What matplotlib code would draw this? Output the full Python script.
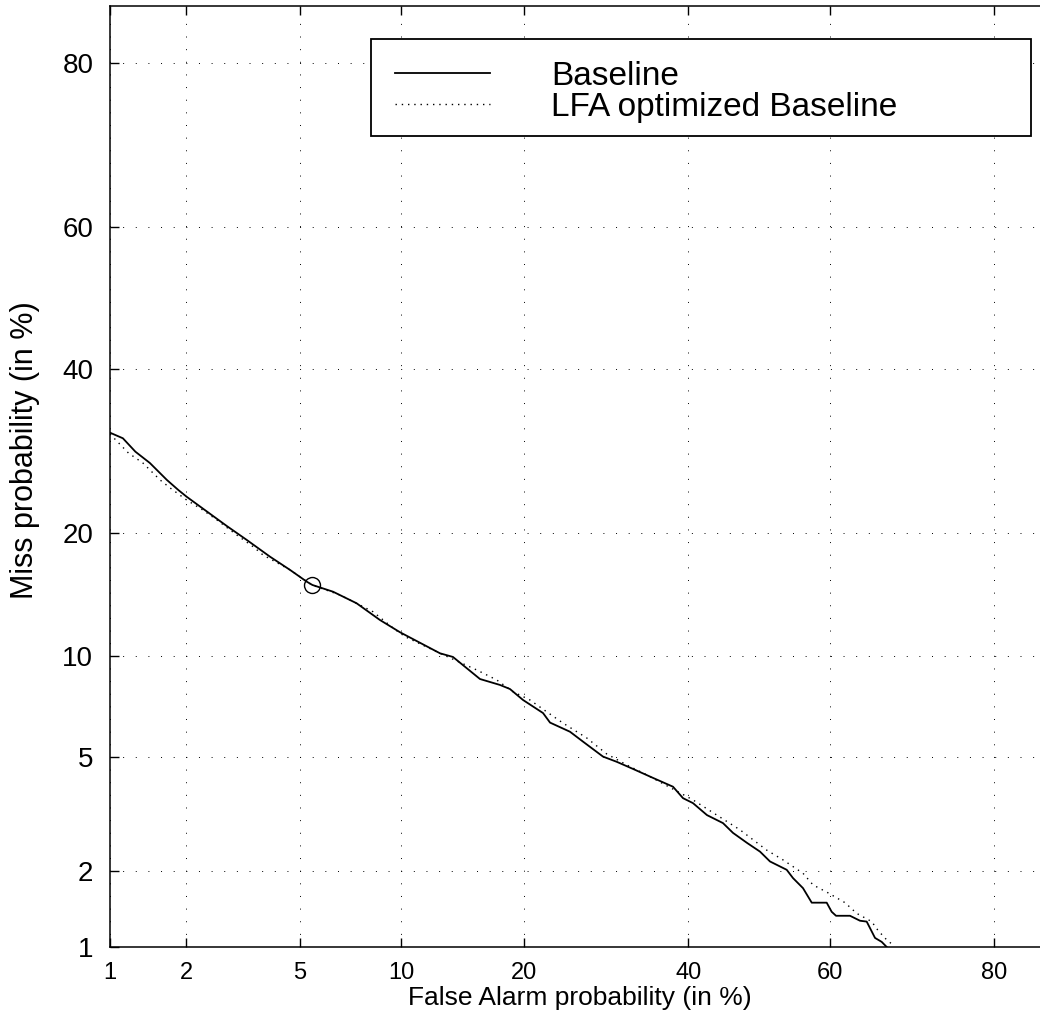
from statistics import NormalDist
import numpy as np
import matplotlib
matplotlib.use("Agg")
import matplotlib.pyplot as plt
from matplotlib.patches import Rectangle
from matplotlib.ticker import FixedLocator, FixedFormatter, NullLocator

# DET curves, values in percent
baseline_fa = [1.0, 1.13, 1.27, 1.45, 1.69, 1.87, 2.01, 2.26, 2.82, 3.32, 3.98, 4.64, 5.25, 5.47,
               6.34, 7.46, 8.71, 9.91, 12.64, 13.63, 15.86, 17.66, 18.6, 19.88, 21.94, 22.69,
               24.9, 26.4, 28.8, 30.5, 32.57, 35.19, 37.89, 39.26, 40.64, 42.6, 44.86, 46.28,
               48.28, 50.14, 51.57, 53.95, 54.84, 56.26, 57.49, 59.58, 60.27, 60.87, 62.78,
               64.13, 65.02, 66.12, 66.99, 67.64]
baseline_miss = [31.46, 30.75, 29.08, 27.71, 25.71, 24.56, 23.81, 22.72, 20.69, 19.28, 17.69,
                 16.48, 15.46, 15.18, 14.62, 13.69, 12.42, 11.54, 10.14, 9.91, 8.6, 8.27, 8.05,
                 7.48, 6.84, 6.4, 6.0, 5.59, 5.01, 4.82, 4.57, 4.27, 3.99, 3.65, 3.51, 3.19,
                 2.99, 2.76, 2.54, 2.36, 2.17, 2.02, 1.88, 1.72, 1.51, 1.51, 1.39, 1.34, 1.34,
                 1.28, 1.27, 1.09, 1.05, 1.0]

lfa_fa = [1.0, 1.19, 1.36, 1.59, 1.74, 2.01, 2.31, 2.6, 3.06, 3.49, 3.77, 4.64, 5.45, 6.66,
          8.32, 9.48, 10.22, 12.64, 15.58, 17.35, 18.89, 20.58, 22.33, 24.11, 26.84, 29.25,
          31.76, 34.36, 40.64, 47.28, 51.1, 53.42, 56.26, 57.67, 59.76, 62.1, 63.68, 65.68,
          66.51, 67.64, 68.44]
lfa_miss = [31.29, 28.92, 27.71, 25.71, 24.79, 23.45, 22.36, 21.31, 19.78, 18.63, 17.85, 16.48,
            15.18, 14.35, 13.04, 11.84, 11.24, 10.14, 9.12, 8.55, 7.91, 7.48, 6.9, 6.38, 5.74,
            5.11, 4.71, 4.37, 3.6, 2.83, 2.39, 2.2, 1.96, 1.77, 1.65, 1.51, 1.37, 1.27, 1.17,
            1.07, 1.02]

# operating point (minimum cost) on the baseline curve
op_fa = [5.47]
op_miss = [15.18]

tick_values = [1, 2, 5, 10, 20, 40, 60, 80]
tick_labels = ["1", "2", "5", "10", "20", "40", "60", "80"]
series_labels = ["Baseline", "LFA optimized Baseline"]
axis_limits = (1.0, 85.2)

_nd = NormalDist()


def _ppf_one(p):
    if not np.isfinite(p):
        return np.nan
    return _nd.inv_cdf(min(max(p / 100.0, 1e-9), 1 - 1e-9))


def _cdf_one(z):
    if not np.isfinite(z):
        return np.nan
    return 100.0 * _nd.cdf(z)


_ppf = np.vectorize(_ppf_one, otypes=[float])
_cdf = np.vectorize(_cdf_one, otypes=[float])


def probit(p):
    return _ppf(np.asarray(p, dtype=float))


def inv_probit(z):
    return _cdf(np.asarray(z, dtype=float))


plt.rcParams["font.family"] = ["Liberation Sans", "DejaVu Sans"]

W, H = 1040, 1022
fig = plt.figure(figsize=(W / 100, H / 100), dpi=100)
ax = fig.add_axes([110 / W, 75 / H, 940.6 / W, 940.6 / H])

ax.set_xscale("function", functions=(probit, inv_probit))
ax.set_yscale("function", functions=(probit, inv_probit))
ax.set_xlim(*axis_limits)
ax.set_ylim(*axis_limits)

for axis in (ax.xaxis, ax.yaxis):
    axis.set_major_locator(FixedLocator(tick_values))
    axis.set_major_formatter(FixedFormatter(tick_labels))
    axis.set_minor_locator(NullLocator())

ax.grid(True, color="black", linewidth=0.7, linestyle=(0, (1, 12)))
ax.set_axisbelow(True)

ax.plot(baseline_fa, baseline_miss, color="black", linewidth=1.3, label=series_labels[0],
        zorder=3)
ax.plot(lfa_fa, lfa_miss, color="black", linewidth=1.0, linestyle=(0, (1, 3.5)),
        label=series_labels[1], zorder=3)
ax.plot(op_fa, op_miss, linestyle="none", marker="o", markersize=11.5,
        markerfacecolor="none", markeredgecolor="black", markeredgewidth=1.0, zorder=4)

ax.tick_params(axis="both", which="major", direction="in", length=6.5, width=1.0,
               top=True, right=True)
ax.tick_params(axis="x", labelsize=17, pad=11)
ax.tick_params(axis="y", labelsize=20, pad=12)
for side in ("left", "bottom", "top", "right"):
    ax.spines[side].set_linewidth(1.1)

ax.set_xlabel("False Alarm probability (in %)", fontsize=19)
ax.xaxis.set_label_coords(470 / 940.6, -39 / 940.6)
ax.set_ylabel("Miss probability (in %)", fontsize=22)
ax.yaxis.set_label_coords(-70 / 940.6, (947 - 450) / 940.6)

# legend box
frame = Rectangle((371 / W, 1 - 136 / H), (1031 - 371) / W, (136 - 39) / H,
                  transform=fig.transFigure, facecolor="white", edgecolor="black",
                  linewidth=1.3, zorder=5)
fig.add_artist(frame)
leg = fig.legend(loc="upper left", bbox_to_anchor=(395 / W, 1 - 61 / H), frameon=False,
                 fontsize=24, handlelength=2.85, handletextpad=1.83, borderpad=0,
                 borderaxespad=0, labelspacing=0.0)
leg.set_zorder(6)

fig.savefig("out.png", dpi=100)
